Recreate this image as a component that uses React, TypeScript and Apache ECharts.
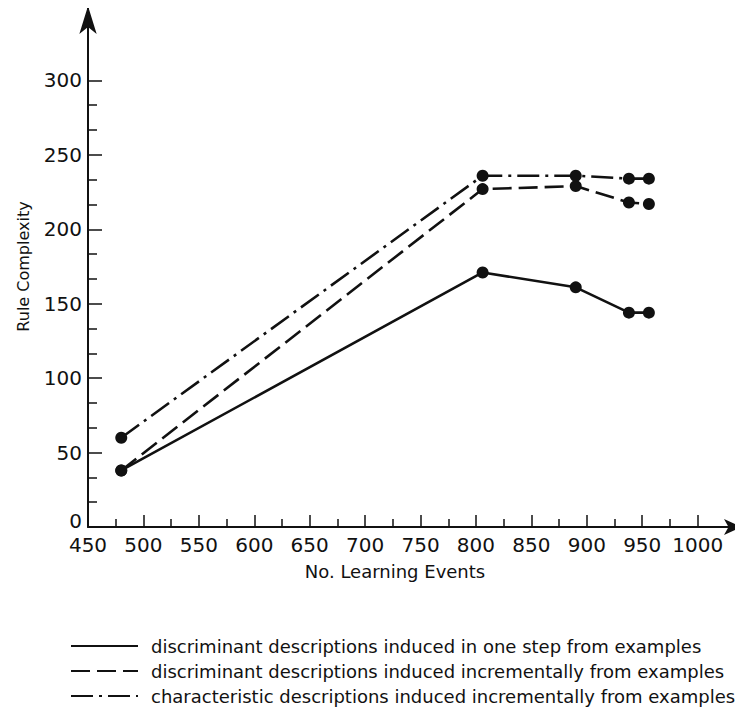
import React, { useEffect, useRef } from "react";
import * as echarts from "echarts";

// ---- data ----
const learningEvents = [480, 806, 890, 938, 956];
const oneStepDiscriminant = [38, 171, 161, 144, 144];
const incrementalDiscriminant = [38, 227, 229, 218, 217];
const incrementalCharacteristic = [60, 236, 236, 234, 234];

const seriesNames = [
  "discriminant descriptions induced in one step from examples",
  "discriminant descriptions induced incrementally from examples",
  "characteristic descriptions induced incrementally from examples",
];

// tick positions / labels
const xMajorTicks = [450, 500, 550, 600, 650, 700, 750, 800, 850, 900, 950, 1000];
const xMinorTicks = [475, 525, 575, 625, 675, 725, 775, 825, 875, 925, 975];
const yMajorTicks = [0, 50, 100, 150, 200, 250, 300];
const yMinorTicks = [
  50 / 3, 100 / 3, 200 / 3, 250 / 3, 350 / 3, 400 / 3, 500 / 3, 550 / 3,
  650 / 3, 700 / 3, 800 / 3, 850 / 3,
];

const FONT = "DejaVu Sans";
const INK = "#111";

export default function App() {
  const ref = useRef<HTMLDivElement>(null);

  useEffect(() => {
    if (!ref.current) return;
    const chart = echarts.init(ref.current, undefined, { renderer: "svg" });

    const toPairs = (vals: number[]) => learningEvents.map((x, i) => [x, vals[i]]);
    const lineTypes: any[] = ["solid", [19, 7], [22, 6, 3, 6]];
    const valueSets = [oneStepDiscriminant, incrementalDiscriminant, incrementalCharacteristic];

    chart.setOption({
      animation: false,
      backgroundColor: "#fff",
      grid: { left: 88, top: 6, width: 654, height: 521, containLabel: false },
      xAxis: [
        {
          type: "value",
          min: 450,
          max: 1040,
          name: "No. Learning Events",
          nameLocation: "middle",
          nameGap: 35,
          nameTextStyle: { fontFamily: FONT, fontSize: 18, color: INK, padding: [0, 40, 0, 0] },
          axisLine: {
            lineStyle: { color: INK, width: 2 },
            symbol: ["none", "arrow"],
            symbolSize: [12, 18],
          },
          axisTick: { inside: true, length: 12, customValues: xMajorTicks, lineStyle: { color: INK, width: 1.5 } },
          axisLabel: {
            customValues: xMajorTicks,
            formatter: (v: number) => String(v),
            fontFamily: FONT,
            fontSize: 20,
            color: INK,
            margin: 8,
          },
          splitLine: { show: false },
        },
        {
          type: "value",
          min: 450,
          max: 1040,
          position: "bottom",
          gridIndex: 0,
          axisLine: { show: false },
          axisTick: { inside: true, length: 8, customValues: xMinorTicks, lineStyle: { color: INK, width: 1.5 } },
          axisLabel: { show: false },
          splitLine: { show: false },
        },
      ],
      yAxis: [
        {
          type: "value",
          min: 0,
          max: 350,
          name: "Rule Complexity",
          nameLocation: "middle",
          nameGap: 57,
          nameRotate: 90,
          nameTextStyle: { fontFamily: FONT, fontSize: 16, color: INK },
          axisLine: {
            lineStyle: { color: INK, width: 2 },
            symbol: ["none", "arrow"],
            symbolSize: [13, 28],
          },
          axisTick: { inside: true, length: 14, customValues: yMajorTicks, lineStyle: { color: INK, width: 1.5 } },
          axisLabel: {
            customValues: yMajorTicks,
            formatter: (v: number) => (v === 0 ? "{z|0}" : String(v)),
            rich: { z: { fontFamily: FONT, fontSize: 20, color: INK, padding: [0, 0, 12, 0] } },
            fontFamily: FONT,
            fontSize: 20,
            color: INK,
            margin: 6,
          },
          splitLine: { show: false },
        },
        {
          type: "value",
          min: 0,
          max: 350,
          position: "left",
          gridIndex: 0,
          axisLine: { show: false },
          axisTick: { inside: true, length: 9, customValues: yMinorTicks, lineStyle: { color: INK, width: 1.5 } },
          axisLabel: { show: false },
          splitLine: { show: false },
        },
      ],
      legend: {
        orient: "vertical",
        left: 70,
        top: 636,
        padding: 0,
        itemWidth: 67,
        itemHeight: 20,
        itemGap: 5,
        itemStyle: { opacity: 0 },
        textStyle: { fontFamily: FONT, fontSize: 18, lineHeight: 20, color: INK, padding: [0, 0, 0, 8] },
        data: seriesNames,
        selectedMode: false,
      },
      series: seriesNames.map((name, i) => ({
        name,
        type: "line",
        xAxisIndex: 0,
        yAxisIndex: 0,
        data: toPairs(valueSets[i]),
        symbol: "circle",
        symbolSize: 12,
        itemStyle: { color: INK },
        lineStyle: { color: INK, width: 2.6, type: lineTypes[i] },
      })),
    });

    return () => chart.dispose();
  }, []);

  return <div ref={ref} style={{ width: 743, height: 715, marginLeft: -8, marginTop: -8 }} />;
}
